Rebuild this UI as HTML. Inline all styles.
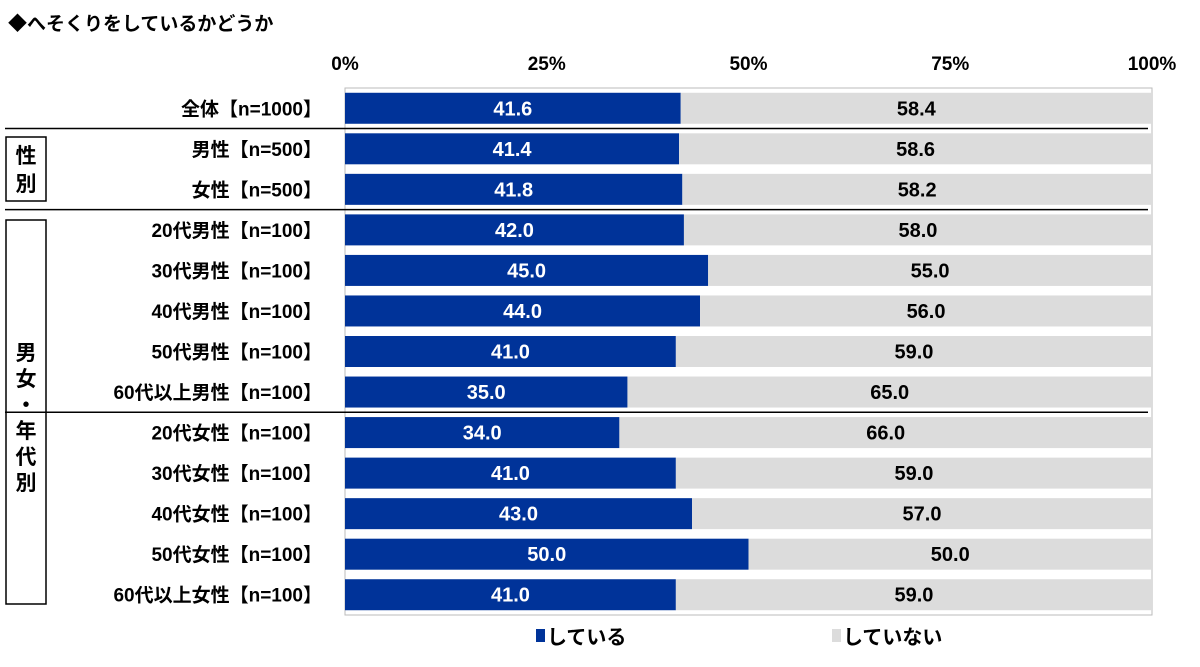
<!DOCTYPE html>
<html><head><meta charset="utf-8"><style>
body{margin:0;background:#fff;width:1200px;height:662px;overflow:hidden;font-family:"Liberation Sans","Noto Sans CJK JP",sans-serif;font-weight:bold}
</style></head><body>
<svg id="c" width="1200" height="662" style="font-family:'Liberation Sans','Noto Sans CJK JP',sans-serif;font-weight:bold">
<text x="8" y="30" font-size="19">◆へそくりをしているかどうか</text>
</svg>
<script>
const categories=["全体【n=1000】","男性【n=500】","女性【n=500】","20代男性【n=100】","30代男性【n=100】","40代男性【n=100】","50代男性【n=100】","60代以上男性【n=100】","20代女性【n=100】","30代女性【n=100】","40代女性【n=100】","50代女性【n=100】","60代以上女性【n=100】"];
const yesValues=[41.6,41.4,41.8,42.0,45.0,44.0,41.0,35.0,34.0,41.0,43.0,50.0,41.0];
const noValues=[58.4,58.6,58.2,58.0,55.0,56.0,59.0,65.0,66.0,59.0,57.0,50.0,59.0];
const tickValues=[0,25,50,75,100];
const tickLabels=["0%","25%","50%","75%","100%"];
const svg=document.getElementById('c');const NS="http://www.w3.org/2000/svg";
const X0=345,X1=1152,TOP=88,BOT=615;
const x=v=>X0+(X1-X0)*v/100;
const pitch=(BOT-TOP)/categories.length;
const yc=i=>TOP+pitch*(i+0.5);
const BH=31;
function mk(t,a,txt){const e=document.createElementNS(NS,t);for(const k in a)e.setAttribute(k,a[k]);if(txt!=null)e.textContent=txt;svg.appendChild(e);return e;}
let f=mk('rect',{x:X0,y:TOP,width:X1-X0,height:BOT-TOP,fill:'none',stroke:'#bbb','stroke-width':1});


tickValues.forEach((v,i)=>{const t=mk('text',{x:x(v),y:70,'font-size':19,'text-anchor':'middle'},tickLabels[i]);

});
categories.forEach((c,i)=>{
const y=yc(i);
const tot=yesValues[i]+noValues[i];
const yw=x(yesValues[i])-X0;
const b=mk('rect',{x:X0,y:y-BH/2,width:yw,height:BH,fill:'#003399'});


const g=mk('rect',{x:X0+yw,y:y-BH/2,width:x(noValues[i])-X0,height:BH,fill:'#dcdcdc'});


const t1=mk('text',{x:X0+yw/2,y:y+7,'font-size':20,'text-anchor':'middle',fill:'#fff'},yesValues[i].toFixed(1));


const t2=mk('text',{x:X0+yw+(x(noValues[i])-X0)/2,y:y+7,'font-size':20,'text-anchor':'middle',fill:'#000'},noValues[i].toFixed(1));


const l=mk('text',{x:322,y:y+7,'font-size':19,'text-anchor':'end'},c);


});
[1,3,8].forEach(i=>{const yy=TOP+pitch*i;const s=mk('line',{x1:5,x2:1148,y1:yy,y2:yy,stroke:'#000','stroke-width':1.5});

});
const b1=mk('rect',{x:6,y:137,width:40,height:64,fill:'none',stroke:'#000','stroke-width':1.5});


["性","別"].forEach((ch,k)=>{const t=mk('text',{x:26,y:163+k*28,'font-size':21,'text-anchor':'middle'},ch);

});
const b2=mk('rect',{x:6,y:220,width:40,height:384,fill:'none',stroke:'#000','stroke-width':1.5});


["男","女","・","年","代","別"].forEach((ch,k)=>{const t=mk('text',{x:26,y:360+k*26,'font-size':21,'text-anchor':'middle'},ch);

});
const lg1=mk('rect',{x:536,y:629,width:9,height:13,fill:'#003399'});


const lt1=mk('text',{x:547,y:644,'font-size':20},'している');


const lg2=mk('rect',{x:832,y:629,width:9,height:13,fill:'#dcdcdc'});


const lt2=mk('text',{x:843,y:644,'font-size':20},'していない');


</script>
</body></html>
